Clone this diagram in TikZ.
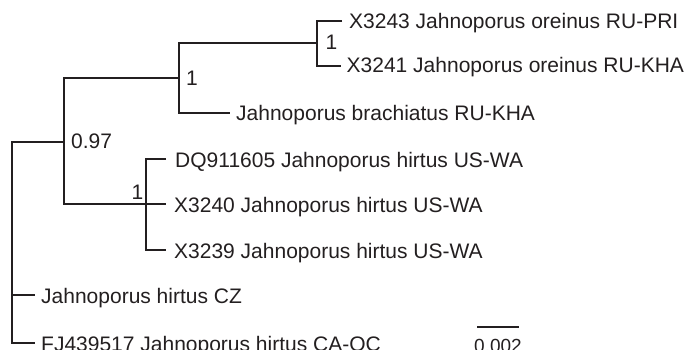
\documentclass[tikz,border=0pt]{standalone}
\usepackage{fontspec}
\setmainfont{Liberation Sans}
\definecolor{ink}{HTML}{231F20}
\begin{document}
\begin{tikzpicture}[x=1pt,y=-1pt,
  branch/.style={draw=ink,line width=2.5pt},
  taxon/.style={anchor=base west,inner sep=0pt,text=ink,font=\fontsize{21}{25}\selectfont},
  support/.style={anchor=base west,inner sep=0pt,text=ink,font=\fontsize{21}{25}\selectfont},
  scalelbl/.style={anchor=base,inner sep=0pt,text=ink,font=\fontsize{19}{23}\selectfont}]
\useasboundingbox (0,0) rectangle (692,350);
\clip (0,0) rectangle (692,350);
% internal nodes
\coordinate (root) at (12,142);
\coordinate (n097) at (64,142);
\coordinate (nA) at (179,78);
\coordinate (nOre) at (317,43);
\coordinate (nUS) at (146,204);
% tips
\coordinate (t1) at (342,21);
\coordinate (t2) at (341,66);
\coordinate (tBra) at (230,113);
\coordinate (tDQ) at (166,159);
\coordinate (t3240) at (166,204);
\coordinate (t3239) at (166,250);
\coordinate (tCZ) at (35,295);
\coordinate (tFJ) at (35,343);
% branches
\draw[branch] (t1) -| (nOre) |- (t2);
\draw[branch] (nA) |- (nOre);
\draw[branch] (nA) |- (tBra);
\draw[branch] (n097) |- (nA);
\draw[branch] (n097) |- (nUS);
\draw[branch] (tDQ) -| (nUS) |- (t3239);
\draw[branch] (nUS) -- (t3240);
\draw[branch] (n097) -- (root) |- (tFJ);
\draw[branch] (root) |- (tCZ);
% taxon labels
\node[taxon] (l1) at (349,28.5) {X3243 Jahnoporus oreinus RU-PRI};
\node[taxon] (l2) at (346.5,73) {X3241 Jahnoporus oreinus RU-KHA};
\node[taxon] (l3) at (236,121) {Jahnoporus brachiatus RU-KHA};
\node[taxon] (l4) at (175,167) {DQ911605 Jahnoporus hirtus US-WA};
\node[taxon] (l5) at (174,212) {X3240 Jahnoporus hirtus US-WA};
\node[taxon] (l6) at (174,258) {X3239 Jahnoporus hirtus US-WA};
\node[taxon] (l7) at (41,303.5) {Jahnoporus hirtus CZ};
\node[taxon] (l8) at (41,351) {FJ439517 Jahnoporus hirtus CA-QC};
% support values
\node[support] (s1) at (325.5,50) {1};
\node[support] (s2) at (186,85) {1};
\node[support] (s3) at (71,148) {0.97};
\node[support] (s4) at (131.5,199) {1};
% scale bar
\coordinate (sbL) at (477,327);
\coordinate (sbR) at (519,327);
\draw[branch] (sbL) -- (sbR);
\node[scalelbl] (sbl) at (498,352) {0.002};
\end{tikzpicture}
\end{document}
